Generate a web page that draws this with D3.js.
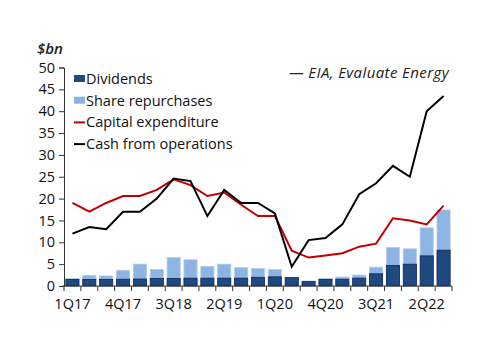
<!DOCTYPE html>
<html>
<head>
<meta charset="utf-8">
<script src="https://cdn.jsdelivr.net/npm/d3@7"></script>
<style>
  body { margin: 0; background: #fff; }
  text { font-family: "Open Sans", "DejaVu Sans", sans-serif; }
</style>
</head>
<body>
<div id="chart"></div>
<script>
// Quarterly data, $bn
const quarters = ["1Q17", "2Q17", "3Q17", "4Q17", "1Q18", "2Q18", "3Q18", "4Q18",
    "1Q19", "2Q19", "3Q19", "4Q19", "1Q20", "2Q20", "3Q20", "4Q20",
    "1Q21", "2Q21", "3Q21", "4Q21", "1Q22", "2Q22", "3Q22"];
const dividends = [1.5, 1.5, 1.5, 1.55, 1.6, 1.7, 1.7, 1.8, 1.8, 1.8, 1.8, 2.0,
    2.1, 1.9, 1.0, 1.5, 1.55, 1.8, 2.8, 4.7, 5.0, 6.9, 8.2];
const buybacks = [0.2, 0.95, 0.8, 2.05, 3.4, 2.1, 4.8, 4.2, 2.7, 3.2, 2.4, 2.0,
    1.7, 0.1, 0.15, 0.2, 0.5, 0.7, 1.5, 4.15, 3.5, 6.4, 9.2];
const capex = [19, 17, 19, 20.6, 20.6, 22, 24.4, 23.1, 20.6, 21.4, 18.6, 16,
    16, 8.1, 6.5, 7, 7.5, 9, 9.7, 15.5, 15, 14.1, 18.4];
const cfo = [12, 13.5, 13, 17, 17, 20, 24.6, 24, 16, 22, 19, 19,
    16.6, 4.4, 10.5, 11, 14.1, 21, 23.5, 27.5, 25, 40, 43.5];
const yTicks = [0, 5, 10, 15, 20, 25, 30, 35, 40, 45, 50];

const W = 500, H = 353;
const margin = { top: 67.5, right: 48, bottom: 67, left: 64 };
const width = W - margin.left - margin.right;
const height = H - margin.top - margin.bottom;

const svg = d3.select("#chart")
    .append("svg")
    .attr("width", W)
    .attr("height", H)
    .append("g")
    .attr("transform", "translate(" + margin.left + "," + margin.top + ")");

const x = d3.scaleBand()
    .domain(quarters)
    .range([0, width])
    .paddingInner(0.22)
    .paddingOuter(0.11);

const y = d3.scaleLinear()
    .domain([0, 50])
    .range([height, 0]);

// bars
const stacked = quarters.map((q, i) => ({ q, div: dividends[i], buy: buybacks[i] }));

svg.selectAll(".bar-buy")
    .data(stacked)
    .enter()
    .append("rect")
    .attr("x", d => x(d.q))
    .attr("width", x.bandwidth())
    .attr("y", d => y(d.div + d.buy))
    .attr("height", d => y(d.div) - y(d.div + d.buy))
    .style("fill", "#8db4e2")
    .style("stroke", "#b0cbee")
    .style("stroke-width", 0.8);

svg.selectAll(".bar-div")
    .data(stacked)
    .enter()
    .append("rect")
    .attr("x", d => x(d.q))
    .attr("width", x.bandwidth())
    .attr("y", d => y(d.div))
    .attr("height", d => y(0) - y(d.div))
    .style("fill", "#1f4a80")
    .style("stroke", "#0c1f5e")
    .style("stroke-width", 0.8);

// lines
const line = d3.line()
    .x((d, i) => x(quarters[i]) + x.bandwidth() / 2)
    .y(d => y(d));

svg.append("path")
    .datum(capex)
    .attr("d", line)
    .style("fill", "none")
    .style("stroke", "#c00000")
    .style("stroke-width", 2);

svg.append("path")
    .datum(cfo)
    .attr("d", line)
    .style("fill", "none")
    .style("stroke", "#000")
    .style("stroke-width", 2);

// y axis
const yAxis = d3.axisLeft(y)
    .tickValues(yTicks)
    .tickSize(5)
    .tickPadding(4);

const gy = svg.append("g").call(yAxis);
gy.select(".domain").attr("stroke", "#333");
gy.selectAll(".tick line").attr("stroke", "#333");
gy.selectAll("text").style("font-size", "14.5px").attr("fill", "#111");

// x axis with labels every third quarter
const xAxis = d3.axisBottom(x)
    .tickValues(quarters.filter((q, i) => i % 3 === 0))
    .tickSize(0)
    .tickPadding(13);

const gx = svg.append("g")
    .attr("transform", "translate(0," + height + ")")
    .call(xAxis);
gx.select(".domain").attr("d", "M-2,0H" + width).attr("stroke", "#333");
gx.selectAll("text").style("font-size", "14.5px").attr("fill", "#111");

// ticks between the quarters
gx.selectAll(".qtick")
    .data(d3.range(quarters.length + 1))
    .enter()
    .append("line")
    .attr("x1", i => i * x.step())
    .attr("x2", i => i * x.step())
    .attr("y1", 0)
    .attr("y2", 5)
    .attr("stroke", "#333");

// unit label
svg.append("text")
    .attr("x", -27)
    .attr("y", -14)
    .style("font-size", "15px")
    .style("font-style", "italic")
    .style("font-weight", "600")
    .style("fill", "#222")
    .text("$bn");

// source
svg.append("text")
    .attr("x", width - 3)
    .attr("y", 10)
    .attr("text-anchor", "end")
    .style("font-size", "15px")
    .style("font-style", "italic")
    .style("letter-spacing", "0.4px")
    .style("fill", "#222")
    .text("\u2014 EIA, Evaluate Energy");

// legend
const legend = [
    { name: "Dividends", type: "rect", color: "#1f4a80" },
    { name: "Share repurchases", type: "rect", color: "#8db4e2" },
    { name: "Capital expenditure", type: "line", color: "#c00000" },
    { name: "Cash from operations", type: "line", color: "#000" }
];

const lg = svg.selectAll(".legend")
    .data(legend)
    .enter()
    .append("g")
    .attr("transform", (d, i) => "translate(10," + (11.5 + i * 21.7) + ")");

lg.filter(d => d.type === "rect")
    .append("rect")
    .attr("x", 0)
    .attr("y", -4)
    .attr("width", 11)
    .attr("height", 7)
    .style("fill", d => d.color);

lg.filter(d => d.type === "line")
    .append("line")
    .attr("x1", 0)
    .attr("x2", 11)
    .attr("y1", 0)
    .attr("y2", 0)
    .style("stroke", d => d.color)
    .style("stroke-width", 2);

lg.append("text")
    .attr("x", 12)
    .attr("y", 0)
    .attr("dy", "0.35em")
    .style("font-size", "14.5px")
    .style("fill", "#111")
    .text(d => d.name);
</script>
</body>
</html>
